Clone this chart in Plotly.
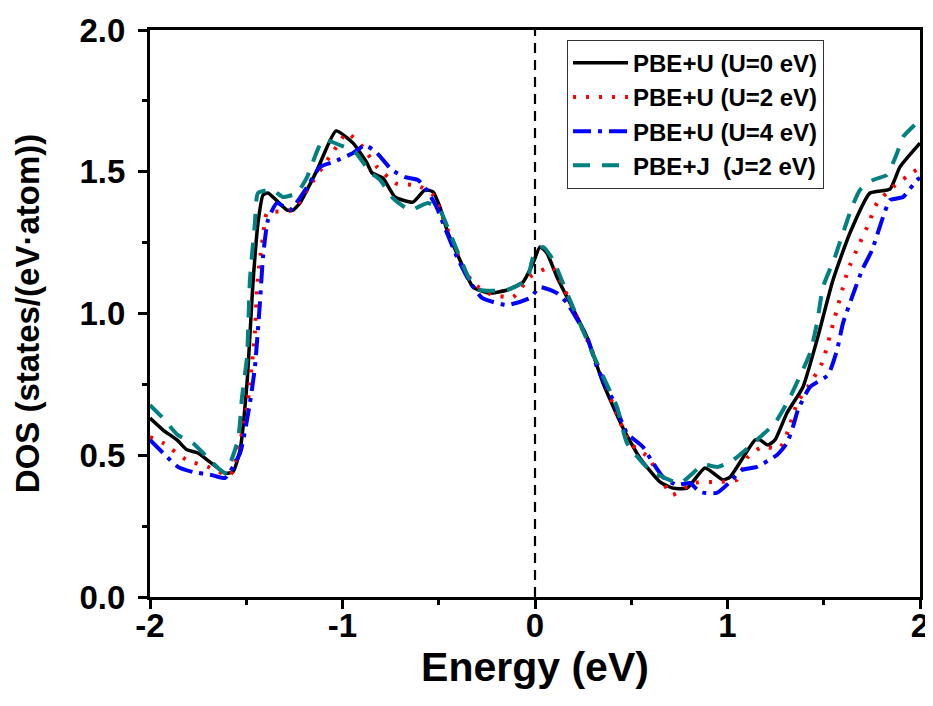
import plotly.graph_objects as go

# ---- data ----
e_u0 = [-2.0, -1.932, -1.86, -1.808, -1.751, -1.688, -1.61, -1.569, -1.532, -1.496, -1.465, -1.439, -1.413,
        -1.387, -1.288, -1.257, -1.221, -1.132, -1.034, -0.945, -0.873, -0.847, -0.79, -0.727, -0.634,
        -0.571, -0.53, -0.494, -0.452, -0.39, -0.322, -0.234, -0.145, -0.062, -0.01, 0.026, 0.062, 0.114,
        0.166, 0.27, 0.353, 0.457, 0.545, 0.649, 0.717, 0.79, 0.883, 0.977, 1.013, 1.143, 1.169, 1.21,
        1.247, 1.309, 1.392, 1.465, 1.548, 1.636, 1.74, 1.844, 1.896, 2.0]
dos_u0 = [0.631, 0.589, 0.554, 0.519, 0.508, 0.476, 0.437, 0.441, 0.519, 0.755, 1.108, 1.319, 1.418,
          1.425, 1.365, 1.365, 1.39, 1.506, 1.644, 1.601, 1.531, 1.496, 1.478, 1.411, 1.393,
          1.436, 1.429, 1.376, 1.284, 1.189, 1.093, 1.072, 1.083, 1.111, 1.178, 1.235, 1.213, 1.129,
          1.058, 0.917, 0.755, 0.596, 0.49, 0.406, 0.384, 0.384, 0.455, 0.413, 0.423, 0.554, 0.554, 0.536,
          0.554, 0.649, 0.741, 0.907, 1.118, 1.284, 1.425, 1.439, 1.517, 1.601]

e_u2 = [-2.0, -1.932, -1.808, -1.699, -1.584, -1.496, -1.481, -1.455, -1.444, -1.429, -1.413, -1.392,
        -1.257, -1.184, -1.049, -0.977, -0.894, -0.821, -0.717, -0.613, -0.53, -0.478, -0.39, -0.322,
        -0.234, -0.114, -0.026, 0.078, 0.104, 0.197, 0.301, 0.494, 0.587, 0.649, 0.712, 0.821, 0.935,
        1.049, 1.106, 1.179, 1.273, 1.325, 1.361, 1.418, 1.491, 1.558, 1.626, 1.678, 1.73, 1.777, 1.86,
        1.964, 2.0]
dos_u2 = [0.564, 0.543, 0.483, 0.459, 0.43, 0.67, 0.755, 0.931, 1.093, 1.189, 1.27, 1.354,
          1.365, 1.436, 1.57, 1.637, 1.587, 1.517, 1.457, 1.453, 1.418, 1.337, 1.189, 1.108,
          1.069, 1.058, 1.129, 1.164, 1.153, 1.019, 0.861, 0.543, 0.494, 0.423, 0.36, 0.402, 0.406,
          0.413, 0.494, 0.529, 0.526, 0.607, 0.684, 0.741, 0.825, 0.988, 1.153, 1.235, 1.312, 1.39, 1.446,
          1.499, 1.513]

e_u4 = [-2.0, -1.932, -1.855, -1.777, -1.678, -1.61, -1.532, -1.481, -1.455, -1.429, -1.413, -1.387,
        -1.34, -1.273, -1.184, -1.117, -1.049, -0.945, -0.883, -0.821, -0.743, -0.675, -0.608, -0.556,
        -0.509, -0.478, -0.405, -0.353, -0.275, -0.145, -0.026, 0.026, 0.114, 0.166, 0.27, 0.322, 0.405,
        0.478, 0.561, 0.613, 0.665, 0.738, 0.805, 0.857, 0.945, 1.013, 1.075, 1.153, 1.257, 1.309, 1.34,
        1.366, 1.429, 1.522, 1.569, 1.6, 1.647, 1.699, 1.751, 1.808, 1.844, 1.912, 1.984, 2.0]
dos_u4 = [0.554, 0.508, 0.459, 0.441, 0.43, 0.42, 0.508, 0.684, 0.811, 1.037, 1.199, 1.33,
          1.39, 1.365, 1.446, 1.517, 1.534, 1.566, 1.594, 1.566, 1.506, 1.481, 1.471, 1.429,
          1.372, 1.319, 1.199, 1.129, 1.055, 1.03, 1.055, 1.093, 1.072, 1.037, 0.917, 0.811, 0.695,
          0.578, 0.529, 0.473, 0.423, 0.395, 0.402, 0.37, 0.367, 0.406, 0.448, 0.459, 0.501, 0.543, 0.6,
          0.66, 0.741, 0.783, 0.871, 0.966, 1.058, 1.153, 1.224, 1.34, 1.4, 1.411, 1.471, 1.478]

e_j2 = [-2.0, -1.938, -1.855, -1.777, -1.678, -1.61, -1.543, -1.522, -1.496, -1.481, -1.455, -1.439,
        -1.366, -1.309, -1.236, -1.184, -1.101, -1.003, -0.935, -0.857, -0.805, -0.738, -0.649, -0.556,
        -0.494, -0.442, -0.338, -0.286, -0.145, -0.042, -0.01, 0.042, 0.094, 0.166, 0.322, 0.426, 0.478,
        0.597, 0.753, 0.873, 0.951, 1.029, 1.169, 1.247, 1.325, 1.429, 1.465, 1.496, 1.558, 1.6, 1.647,
        1.688, 1.756, 1.829, 1.881, 1.912, 2.0]
dos_j2 = [0.677, 0.635, 0.571, 0.543, 0.476, 0.437, 0.554, 0.705, 0.847, 1.118, 1.319, 1.425,
          1.436, 1.411, 1.425, 1.481, 1.612, 1.591, 1.57, 1.499, 1.471, 1.407, 1.365, 1.39,
          1.365, 1.284, 1.118, 1.083, 1.083, 1.118, 1.199, 1.235, 1.189, 1.072, 0.825, 0.67, 0.543,
          0.448, 0.402, 0.466, 0.459, 0.483, 0.564, 0.614, 0.705, 0.861, 0.966, 1.093, 1.199, 1.284, 1.376,
          1.436, 1.471, 1.489, 1.566, 1.623, 1.683]

names = ["PBE+U (U=0 eV)", "PBE+U (U=2 eV)", "PBE+U (U=4 eV)", "PBE+J\u00a0 (J=2 eV)"]
x_ticks = [-2, -1, 0, 1, 2]
y_ticks = [0.0, 0.5, 1.0, 1.5, 2.0]

FONT = "Arial, 'Liberation Sans', sans-serif"

fig = go.Figure()
series = [
    (e_u0, dos_u0, dict(color="#000000", width=3.5, dash="solid")),
    (e_u2, dos_u2, dict(color="#FF0000", width=4, dash="3px,10px")),
    (e_u4, dos_u4, dict(color="#0000FF", width=4, dash="18px,7px,4px,7px")),
    (e_j2, dos_j2, dict(color="#008080", width=4, dash="17px,12px")),
]
for (xs, ys, ln), nm in zip(series, names):
    fig.add_trace(go.Scatter(x=xs, y=ys, mode="lines", name=nm,
                             line=dict(shape="spline", smoothing=0.5, **ln)))

fig.add_shape(type="line", xref="x", yref="paper", x0=0, x1=0, y0=0, y1=1,
              line=dict(color="black", width=2.2, dash="10px,7px"))

axis_common = dict(showline=True, linecolor="black", linewidth=3, mirror=True,
                   ticks="outside", ticklen=9, tickwidth=2.5, tickcolor="black",
                   showgrid=False, zeroline=False,
                   tickfont=dict(family=FONT, size=33, color="black", weight="bold"))

fig.update_xaxes(range=[-2, 2], tickvals=x_ticks, ticktext=[str(v) for v in x_ticks],
                 minor=dict(ticks="outside", dtick=0.5, ticklen=5, tickwidth=2.5, tickcolor="black"),
                 ticklabelstandoff=-12,
                 title=dict(text="Energy (eV)", font=dict(family=FONT, size=41, color="black", weight="bold"),
                            standoff=8),
                 **axis_common)
fig.update_yaxes(range=[0, 2], tickvals=y_ticks, ticktext=[f"{v:.1f}" for v in y_ticks],
                 minor=dict(ticks="outside", dtick=0.25, ticklen=5, tickwidth=2.5, tickcolor="black"),
                 ticklabelstandoff=6,
                 title=dict(text="DOS (states/(eV·atom))", font=dict(family=FONT, size=33, color="black", weight="bold"),
                            standoff=30),
                 **axis_common)

fig.update_layout(
    width=933, height=706,
    margin=dict(l=142, r=21, t=22, b=117, autoexpand=False),
    paper_bgcolor="white", plot_bgcolor="white",
    legend=dict(x=0.5416, y=0.983, xanchor="left", yanchor="top",
                bgcolor="white", bordercolor="#333333", borderwidth=1,
                font=dict(family=FONT, size=24, color="black", weight="bold"),
                itemwidth=55, tracegroupgap=0),
    showlegend=True,
)

fig.write_html("out.html")
